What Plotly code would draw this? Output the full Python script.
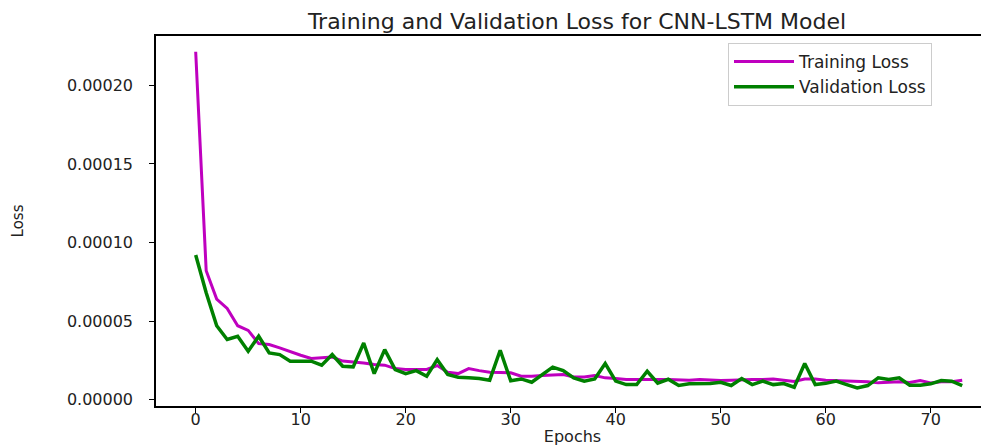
import plotly.graph_objects as go

epochs = list(range(74))

training_loss = [
    2.215e-4, 8.2e-5, 6.4e-5, 5.8e-5, 4.7e-5, 4.4e-5, 3.56e-5, 3.5e-5, 3.29e-5, 3.03e-5,
    2.82e-5, 2.61e-5, 2.67e-5, 2.70e-5, 2.45e-5, 2.40e-5, 2.33e-5, 2.23e-5, 2.19e-5, 1.97e-5,
    1.91e-5, 1.91e-5, 1.91e-5, 2.16e-5, 1.74e-5, 1.65e-5, 1.97e-5, 1.84e-5, 1.74e-5, 1.72e-5,
    1.70e-5, 1.48e-5, 1.48e-5, 1.53e-5, 1.57e-5, 1.59e-5, 1.44e-5, 1.44e-5, 1.53e-5, 1.38e-5,
    1.34e-5, 1.27e-5, 1.27e-5, 1.25e-5, 1.27e-5, 1.27e-5, 1.23e-5, 1.23e-5, 1.27e-5, 1.23e-5,
    1.21e-5, 1.23e-5, 1.27e-5, 1.27e-5, 1.27e-5, 1.31e-5, 1.23e-5, 1.15e-5, 1.31e-5, 1.31e-5,
    1.23e-5, 1.21e-5, 1.21e-5, 1.17e-5, 1.13e-5, 1.06e-5, 1.08e-5, 1.13e-5, 1.08e-5, 1.21e-5,
    1.06e-5, 1.13e-5, 1.13e-5, 1.23e-5,
]

validation_loss = [
    9.2e-5, 6.8e-5, 4.7e-5, 3.82e-5, 4.03e-5, 3.08e-5, 4.03e-5, 2.97e-5, 2.86e-5, 2.44e-5,
    2.44e-5, 2.44e-5, 2.19e-5, 2.86e-5, 2.12e-5, 2.08e-5, 3.60e-5, 1.65e-5, 3.18e-5, 1.91e-5,
    1.65e-5, 1.84e-5, 1.48e-5, 2.54e-5, 1.59e-5, 1.42e-5, 1.38e-5, 1.34e-5, 1.23e-5, 3.14e-5,
    1.19e-5, 1.31e-5, 1.10e-5, 1.59e-5, 2.06e-5, 1.84e-5, 1.38e-5, 1.17e-5, 1.31e-5, 2.29e-5,
    1.17e-5, 0.95e-5, 0.95e-5, 1.80e-5, 1.04e-5, 1.29e-5, 0.89e-5, 1.00e-5, 1.00e-5, 1.02e-5,
    1.10e-5, 0.89e-5, 1.34e-5, 0.95e-5, 1.17e-5, 0.95e-5, 1.02e-5, 0.78e-5, 2.29e-5, 0.95e-5,
    1.03e-5, 1.17e-5, 0.95e-5, 0.74e-5, 0.89e-5, 1.38e-5, 1.27e-5, 1.38e-5, 0.91e-5, 0.91e-5,
    1.00e-5, 1.21e-5, 1.17e-5, 0.89e-5,
]

x_ticks = [0, 10, 20, 30, 40, 50, 60, 70]
y_ticks = [0.0, 0.00005, 0.0001, 0.00015, 0.0002]
y_tick_labels = ["0.00000", "0.00005", "0.00010", "0.00015", "0.00020"]

FONT = "DejaVu Sans"
TXT = "#222222"

# the page body adds an 8px offset, so the figure is sized to fill the rest of the window
W, H = 981, 438
L, R, T, B = 148, 0, 28, 40
PW, PH = W - L - R, H - T - B

fig = go.Figure()
fig.add_trace(go.Scatter(x=epochs, y=training_loss, mode="lines", name="Training Loss",
                         line=dict(color="#bf00bf", width=3)))
fig.add_trace(go.Scatter(x=epochs, y=validation_loss, mode="lines", name="Validation Loss",
                         line=dict(color="#008000", width=3.5)))

fig.update_layout(
    template="none",
    width=W, height=H,
    margin=dict(l=L, r=R, t=T, b=B, autoexpand=False),
    paper_bgcolor="white", plot_bgcolor="white",
    font=dict(family=FONT, size=16, color=TXT),
    title=dict(text="Training and Validation Loss for CNN-LSTM Model",
               x=569 / W, xanchor="center", y=1 - 13 / H, yanchor="middle",
               font=dict(family=FONT, size=22, color=TXT)),
    showlegend=True,
    legend=dict(x=(720 - L) / PW, xanchor="left", y=(T + PH - 35) / PH, yanchor="top",
                bgcolor="rgba(255,255,255,0.8)", bordercolor="#cccccc", borderwidth=1,
                font=dict(family=FONT, size=17, color=TXT),
                tracegroupgap=0, itemwidth=60),
)

fig.update_xaxes(
    automargin=False,
    range=[-3.78, 75.55], tickvals=x_ticks, ticktext=[str(t) for t in x_ticks],
    showgrid=False, zeroline=False,
    showline=True, linecolor="black", linewidth=1.5, mirror=True,
    ticks="outside", ticklen=5, tickwidth=1, tickcolor="black",
    tickfont=dict(family=FONT, size=16, color=TXT),
    ticklabelstandoff=-7,
    title=dict(text="Epochs", font=dict(family=FONT, size=16, color=TXT), standoff=6),
)
fig.update_yaxes(
    automargin=False,
    range=[-4.13e-6, 2.315e-4], tickvals=y_ticks, ticktext=y_tick_labels,
    showgrid=False, zeroline=False,
    showline=True, linecolor="black", linewidth=1.5, mirror=False,
    ticks="outside", ticklen=5, tickwidth=1, tickcolor="black",
    tickfont=dict(family=FONT, size=16, color=TXT),
    ticklabelstandoff=13,
    title=dict(text="Loss", font=dict(family=FONT, size=15, color=TXT), standoff=40),
)

fig.write_html("out.html")
